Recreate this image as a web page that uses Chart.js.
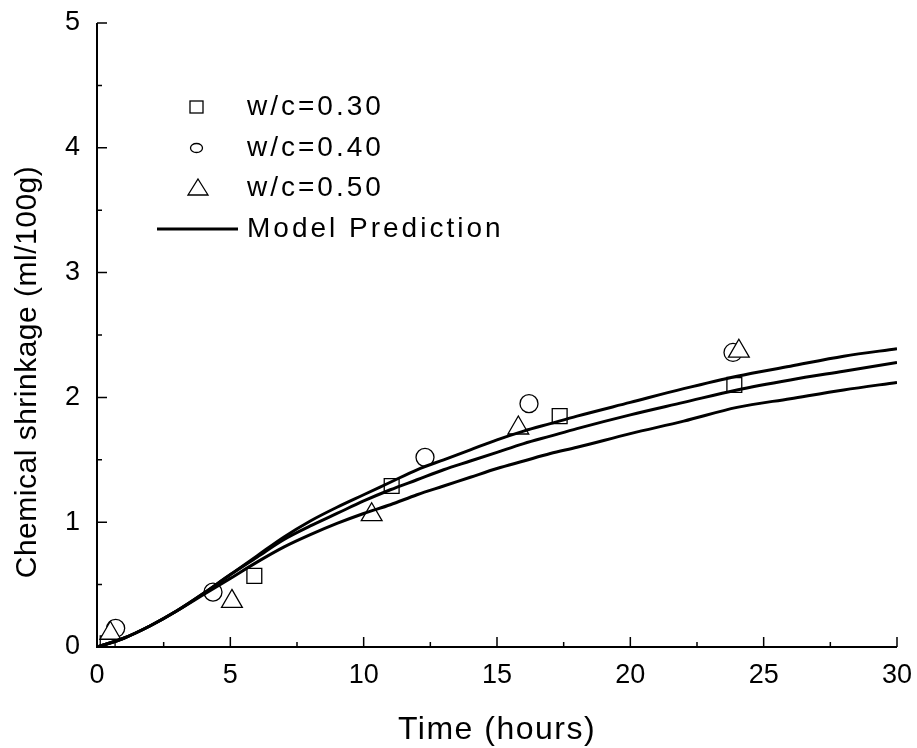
<!DOCTYPE html>
<html>
<head>
<meta charset="utf-8">
<title>Chemical shrinkage</title>
<script src="https://cdn.jsdelivr.net/npm/chart.js@4.4.1/dist/chart.umd.min.js"></script>
<style>
  html, body { margin: 0; padding: 0; background: #fff; }
  #wrap { width: 917px; height: 748px; position: relative; }
</style>
</head>
<body>
<div id="wrap"><canvas id="shrinkChart"></canvas></div>
<script>
// axis ticks
const xTicks = [0, 5, 10, 15, 20, 25, 30];
const xMinor = [2.5, 7.5, 12.5, 17.5, 22.5, 27.5];
const yTicks = [0, 1, 2, 3, 4, 5];
const yMinor = [0.5, 1.5, 2.5, 3.5, 4.5];

// model curves (hours -> ml/100g)
const hours     = [0, 1, 2, 3, 4, 5, 6, 7, 8, 9, 10, 11, 12, 13, 14, 15, 16, 17, 18, 20, 22, 24, 26, 28, 30];
const modelHigh = [0, 0.07, 0.17, 0.29, 0.43, 0.58, 0.73, 0.88, 1.01, 1.12, 1.22, 1.32, 1.42, 1.50, 1.58, 1.66, 1.73, 1.79, 1.85, 1.96, 2.07, 2.17, 2.25, 2.33, 2.39];
const modelMid  = [0, 0.07, 0.17, 0.29, 0.43, 0.58, 0.72, 0.86, 0.97, 1.07, 1.17, 1.26, 1.34, 1.42, 1.49, 1.56, 1.63, 1.69, 1.75, 1.86, 1.96, 2.06, 2.14, 2.21, 2.28];
const modelLow  = [0, 0.07, 0.17, 0.29, 0.42, 0.55, 0.68, 0.80, 0.90, 0.99, 1.07, 1.14, 1.22, 1.29, 1.36, 1.43, 1.49, 1.55, 1.60, 1.71, 1.81, 1.92, 1.99, 2.06, 2.12];

// measurements
const wc30Hours = [0.4, 5.9, 11.05, 17.35, 23.9];
const wc30Vals  = [0.03, 0.57, 1.29, 1.85, 2.10];
const wc40Hours = [0.7, 4.35, 12.3, 16.2, 23.85];
const wc40Vals  = [0.15, 0.44, 1.52, 1.95, 2.36];
const wc50Hours = [0.5, 5.06, 10.3, 15.8, 24.07];
const wc50Vals  = [0.11, 0.365, 1.06, 1.755, 2.37];

const legendItems = ['w/c=0.30', 'w/c=0.40', 'w/c=0.50', 'Model Prediction'];

const FONT = "'Liberation Sans', Arial, sans-serif";

const toPoints = (xs, ys) => xs.map((x, i) => ({ x: x, y: ys[i] }));

function curve(vals) {
  return {
    data: toPoints(hours, vals),
    showLine: true,
    borderColor: '#000',
    borderWidth: 3,
    pointRadius: 0,
    cubicInterpolationMode: 'monotone',
    fill: false
  };
}

function markers(xs, ys, style, r) {
  return {
    data: toPoints(xs, ys),
    showLine: false,
    pointStyle: style,
    pointRadius: r,
    pointBorderWidth: 1.3,
    pointBorderColor: '#000',
    pointBackgroundColor: '#fff'
  };
}

// axes with inward ticks, axis titles and the legend box
const decor = {
  id: 'decor',
  afterDraw(chart) {
    const { ctx, chartArea: a, scales: { x, y } } = chart;
    ctx.save();
    ctx.strokeStyle = '#000';
    ctx.lineWidth = 2;
    ctx.beginPath();
    ctx.moveTo(a.left, a.top);
    ctx.lineTo(a.left, a.bottom);
    ctx.lineTo(a.right, a.bottom);
    ctx.stroke();

    ctx.lineWidth = 1.5;
    ctx.beginPath();
    xTicks.forEach(v => { const px = x.getPixelForValue(v); ctx.moveTo(px, a.bottom); ctx.lineTo(px, a.bottom - 10); });
    xMinor.forEach(v => { const px = x.getPixelForValue(v); ctx.moveTo(px, a.bottom); ctx.lineTo(px, a.bottom - 5); });
    yTicks.forEach(v => { const py = y.getPixelForValue(v); ctx.moveTo(a.left, py); ctx.lineTo(a.left + 10, py); });
    yMinor.forEach(v => { const py = y.getPixelForValue(v); ctx.moveTo(a.left, py); ctx.lineTo(a.left + 5, py); });
    ctx.stroke();

    // titles
    ctx.fillStyle = '#000';
    ctx.textAlign = 'center';
    ctx.textBaseline = 'middle';
    ctx.font = '32px ' + FONT;
    ctx.letterSpacing = '1.5px';
    ctx.fillText('Time (hours)', (a.left + a.right) / 2, 730);
    ctx.save();
    ctx.translate(28, 372);
    ctx.rotate(-Math.PI / 2);
    ctx.font = '30px ' + FONT;
    ctx.letterSpacing = '0.5px';
    ctx.fillText('Chemical shrinkage (ml/100g)', 0, 0);
    ctx.restore();

    // legend
    const rows = [107, 148, 188, 229];
    ctx.lineWidth = 1.3;
    ctx.strokeRect(190, rows[0] - 6, 13, 12);
    ctx.beginPath();
    ctx.ellipse(196.5, rows[1], 6, 4.5, 0, 0, Math.PI * 2);
    ctx.stroke();
    ctx.beginPath();
    ctx.moveTo(198, rows[2] - 9);
    ctx.lineTo(208, rows[2] + 7);
    ctx.lineTo(188, rows[2] + 7);
    ctx.closePath();
    ctx.stroke();
    ctx.lineWidth = 3;
    ctx.beginPath();
    ctx.moveTo(157, rows[3]);
    ctx.lineTo(238, rows[3]);
    ctx.stroke();

    ctx.textAlign = 'left';
    ctx.font = '28px ' + FONT;
    ctx.letterSpacing = '3px';
    legendItems.forEach((t, i) => ctx.fillText(t, 247, rows[i]));
    ctx.restore();
  }
};

new Chart(document.getElementById('shrinkChart'), {
  type: 'scatter',
  data: {
    datasets: [
      curve(modelHigh),
      curve(modelMid),
      curve(modelLow),
      markers(wc50Hours, wc50Vals, 'triangle', 12),
      markers(wc40Hours, wc40Vals, 'circle', 9),
      markers(wc30Hours, wc30Vals, 'rect', 10.5)
    ]
  },
  options: {
    responsive: true,
    maintainAspectRatio: false,
    devicePixelRatio: 1,
    animation: false,
    layout: { padding: { top: 23, right: 20, left: 0, bottom: 0 } },
    plugins: { legend: { display: false }, tooltip: { enabled: false } },
    scales: {
      x: {
        type: 'linear', min: 0, max: 30,
        afterBuildTicks: s => { s.ticks = xTicks.map(v => ({ value: v })); },
        afterFit: s => { s.height = 101; s.paddingLeft = 0; s.paddingRight = 0; },
        grid: { display: false, drawTicks: false },
        border: { display: false },
        ticks: { color: '#000', padding: 12, font: { family: FONT, size: 27 } }
      },
      y: {
        type: 'linear', min: 0, max: 5,
        afterBuildTicks: s => { s.ticks = yTicks.map(v => ({ value: v })); },
        afterFit: s => { s.width = 97; s.paddingTop = 0; s.paddingBottom = 0; },
        grid: { display: false, drawTicks: false },
        border: { display: false },
        ticks: { color: '#000', padding: 17, font: { family: FONT, size: 27 } }
      }
    }
  },
  plugins: [decor]
});
</script>
</body>
</html>
